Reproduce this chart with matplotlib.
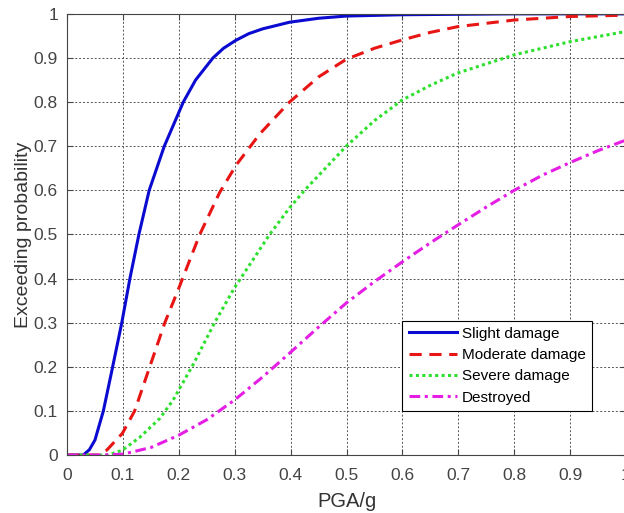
import matplotlib
matplotlib.use('Agg')
import matplotlib.pyplot as plt

plt.rcParams['font.family'] = ['Liberation Sans', 'DejaVu Sans']

# valores (PGA/g, probabilidad)
x_slight = [0, 0.029, 0.04, 0.05, 0.065, 0.08, 0.098, 0.1125, 0.1286, 0.147, 0.174, 0.208,
            0.23, 0.261, 0.28, 0.302, 0.325, 0.35, 0.398, 0.45, 0.4995, 0.6, 0.7, 0.8, 0.9, 1.0]
y_slight = [0, 0.0, 0.012, 0.034, 0.1, 0.19, 0.3, 0.4, 0.5, 0.6, 0.7, 0.8,
            0.85, 0.9, 0.922, 0.94, 0.955, 0.966, 0.981, 0.99, 0.995, 0.998, 0.999, 1.0, 1.0, 1.0]

x_mod = [0, 0.055, 0.071, 0.099, 0.121, 0.148, 0.175, 0.199, 0.2375, 0.273, 0.303, 0.327,
         0.345, 0.398, 0.45, 0.4995, 0.55, 0.6, 0.65, 0.699, 0.8, 0.9, 1.0]
y_mod = [0, 0.0, 0.011, 0.049, 0.1, 0.2, 0.3, 0.375, 0.5, 0.595, 0.658, 0.698,
         0.728, 0.8, 0.857, 0.897, 0.922, 0.941, 0.958, 0.971, 0.986, 0.994, 0.997]

x_sev = [0, 0.074, 0.099, 0.13, 0.166, 0.19, 0.2256, 0.264, 0.3, 0.3625, 0.398, 0.425,
         0.4995, 0.55, 0.6, 0.65, 0.699, 0.8, 0.9, 1.0]
y_sev = [0, 0.0, 0.011, 0.04, 0.083, 0.125, 0.205, 0.3, 0.38, 0.5, 0.56, 0.6,
         0.7, 0.758, 0.805, 0.838, 0.866, 0.907, 0.937, 0.96]

x_des = [0, 0.06, 0.1, 0.15, 0.2, 0.25, 0.3, 0.35, 0.4, 0.45, 0.5, 0.55, 0.6,
         0.65, 0.7, 0.75, 0.8, 0.85, 0.9, 0.95, 1.0]
y_des = [0, 0.0, 0.002, 0.017, 0.045, 0.08, 0.125, 0.177, 0.233, 0.29, 0.345, 0.393, 0.438,
         0.481, 0.522, 0.562, 0.6, 0.634, 0.663, 0.69, 0.714]

etiquetas = ['Slight damage', 'Moderate damage', 'Severe damage', 'Destroyed']
ticks = [0, 0.1, 0.2, 0.3, 0.4, 0.5, 0.6, 0.7, 0.8, 0.9, 1.0]
tick_txt = ['0', '0.1', '0.2', '0.3', '0.4', '0.5', '0.6', '0.7', '0.8', '0.9', '1']

fig = plt.figure(figsize=(6.24, 5.13), dpi=100)
ax = fig.add_axes([0.1074, 0.113, 0.8958, 0.860])

ax.plot(x_slight, y_slight, color='#0a0ad0', lw=2.2, ls='-', label=etiquetas[0])
ax.plot(x_mod, y_mod, color='#e81515', lw=2.2, ls=(0, (4, 2.5)), label=etiquetas[1])
ax.plot(x_sev, y_sev, color='#2ee02e', lw=2.2, ls=(0, (1, 1.1)), label=etiquetas[2])
ax.plot(x_des, y_des, color='#e51ee5', lw=2.2, ls=(0, (3.5, 1.5, 1, 1.5)), label=etiquetas[3])

ax.set_xlim(0, 1)
ax.set_ylim(0, 1)
ax.set_xticks(ticks)
ax.set_yticks(ticks)
ax.set_xticklabels(tick_txt)
ax.set_yticklabels(tick_txt)
ax.tick_params(direction='in', top=True, right=True, labelsize=12.5, colors='#444444', length=4)
ax.tick_params(axis='x', pad=9)
ax.tick_params(axis='y', pad=6.5)
ax.grid(True, ls=(0, (2, 2)), color='#555555', lw=0.7)
for s in ax.spines.values():
    s.set_color('#444444')

ax.set_xlabel('PGA/g', fontsize=14.5, color='#333333', labelpad=7)
ax.set_ylabel('Exceeding probability', fontsize=14, color='#333333', labelpad=1)

leg = ax.legend(loc='lower left', bbox_to_anchor=(0.6, 0.10), borderaxespad=0,
                fancybox=False, edgecolor='black', framealpha=1, fontsize=11,
                handlelength=3.2, handletextpad=0.3, labelspacing=0.48, borderpad=0.4)
leg.get_frame().set_linewidth(0.8)

plt.savefig('out.png', dpi=100)
